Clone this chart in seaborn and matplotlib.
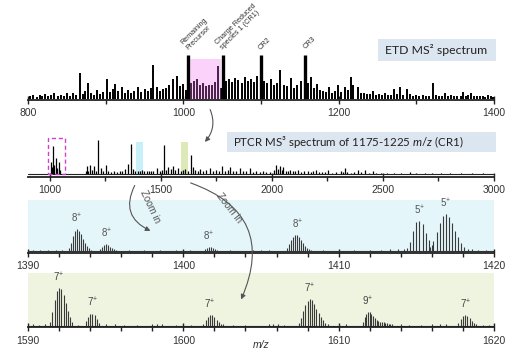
import matplotlib
matplotlib.use("Agg")
import matplotlib.pyplot as plt
from matplotlib.patches import Rectangle, FancyArrowPatch
from matplotlib.ticker import MultipleLocator
import seaborn as sns

# ETD MS2 spectrum (relative intensity, CR3 = 100)
ms2_mz = [803, 807, 811, 815, 818, 822, 826, 830, 834, 838, 842, 846, 850, 854, 858, 862,
          867, 871, 874, 877, 881, 885, 889, 893, 897, 902, 905, 909, 912, 916, 921, 925,
          929, 933, 937, 942, 946, 950, 954, 958, 961, 966, 970, 974, 978, 982, 987, 992,
          996, 1000, 1003, 1010, 1014, 1017, 1021, 1025, 1029, 1033, 1037, 1041, 1045, 1048,
          1055, 1059, 1063, 1067, 1071, 1075, 1079, 1083, 1087, 1091, 1095, 1104, 1108, 1113,
          1117, 1121, 1125, 1129, 1133, 1138, 1142, 1146, 1151, 1160, 1164, 1168, 1172, 1176,
          1180, 1184, 1187, 1191, 1195, 1199, 1203, 1208, 1212, 1216, 1219, 1225, 1229, 1233,
          1237, 1240, 1244, 1248, 1252, 1256, 1260, 1264, 1268, 1271, 1275, 1279, 1283, 1288,
          1292, 1296, 1300, 1304, 1308, 1312, 1316, 1321, 1325, 1329, 1333, 1337, 1341, 1345,
          1349, 1353, 1357, 1360, 1364, 1367, 1370, 1374, 1378, 1382, 1386, 1389, 1392, 1396, 1399]
ms2_int = [5, 8, 4, 9, 6, 11, 5, 9, 13, 6, 8, 5, 12, 7, 14, 9,
           58, 10, 17, 36, 12, 9, 20, 11, 15, 45, 16, 22, 34, 18, 27, 14,
           20, 12, 17, 27, 16, 21, 18, 25, 77, 27, 18, 22, 25, 30, 45, 52,
           28, 34, 20, 35, 40, 45, 30, 35, 28, 32, 30, 38, 75, 25,
           40, 45, 38, 48, 42, 35, 50, 40, 45, 38, 52, 40, 35, 45,
           30, 36, 66, 32, 28, 48, 25, 30, 41, 35, 50, 25, 34, 20,
           18, 15, 27, 14, 18, 32, 15, 27, 20, 50, 30, 27, 14, 12,
           10, 11, 18, 9, 10, 8, 12, 9, 8, 23, 10, 27, 9, 23,
           10, 7, 8, 6, 9, 6, 7, 36, 8, 6, 7, 14, 6, 8,
           5, 7, 6, 16, 6, 8, 14, 5, 7, 5, 6, 4, 9, 5, 4]
ms2_key_mz = [1006, 1051, 1100, 1157]
ms2_key_int = [98, 98, 98, 100]
ms2_key_labels = ["Remaining\nPrecursor", "Charge Reduced\nspecies 1 (CR1)", "CR2", "CR3"]

# PTCR MS3 spectrum (relative intensity)
ms3_mz = [1005, 1010, 1015, 1020, 1025, 1030, 1040, 1045, 1160, 1166, 1172, 1180, 1190, 1198,
          1208, 1216, 1228, 1240, 1252, 1262, 1275, 1290, 1300, 1315, 1325, 1338, 1351, 1365,
          1374, 1385, 1395, 1405, 1415, 1425, 1435, 1445, 1455, 1465, 1482, 1495, 1505, 1514,
          1522, 1532, 1543, 1554, 1565, 1577, 1590, 1600, 1608, 1620, 1635, 1644, 1655, 1666,
          1676, 1690, 1705, 1721, 1735, 1750, 1762, 1775, 1790, 1800, 1811, 1825, 1840, 1856,
          1870, 1885, 1901, 1915, 1930, 1945, 1960, 1975, 1990, 2010, 2018, 2026, 2036, 2044,
          2050, 2062, 2070, 2081, 2095, 2105, 2117, 2130, 2145, 2162, 2175, 2185, 2198, 2210,
          2225, 2240, 2252, 2270, 2290, 2310, 2320, 2329, 2340, 2355, 2370, 2387, 2400, 2419,
          2435, 2455, 2470, 2490, 2520, 2550, 2580, 2620, 2650, 2690, 2720, 2760, 2800, 2850,
          2900, 2950]
ms3_int = [35, 20, 82, 25, 47, 18, 35, 12, 10, 24, 10, 26, 12, 24,
           10, 100, 18, 10, 26, 8, 6, 8, 6, 10, 8, 15, 29, 88,
           15, 8, 10, 8, 12, 9, 10, 8, 10, 9, 18, 10, 12, 85,
           12, 20, 14, 24, 12, 18, 10, 12, 15, 8, 56, 20, 12, 10,
           15, 10, 12, 18, 10, 12, 10, 24, 10, 12, 20, 8, 10, 18,
           8, 10, 18, 6, 8, 6, 8, 6, 5, 12, 26, 15, 24, 12,
           20, 10, 8, 12, 8, 10, 12, 6, 8, 9, 6, 8, 12, 5,
           6, 5, 12, 4, 6, 8, 6, 18, 5, 4, 6, 12, 5, 12,
           4, 9, 3, 4, 3, 4, 3, 5, 3, 4, 3, 4, 3, 2,
           2, 2]

# zoom 1390-1420 m/z
z1_mz = [1390.3, 1390.8, 1391.3, 1391.8, 1392.2,
         1392.65, 1392.78, 1392.90, 1393.03, 1393.15, 1393.28, 1393.40, 1393.53, 1393.65,
         1393.78, 1393.90, 1394.03,
         1394.65, 1394.78, 1394.90, 1395.03, 1395.15, 1395.28, 1395.40, 1395.53, 1395.65,
         1396.5, 1397.5, 1398.5, 1399.5, 1400.4,
         1401.40, 1401.53, 1401.65, 1401.78, 1401.90, 1402.03, 1402.15,
         1403.0, 1404.5, 1405.0, 1405.5,
         1406.70, 1406.83, 1406.95, 1407.08, 1407.20, 1407.33, 1407.45, 1407.58, 1407.70,
         1407.83, 1407.95, 1408.08, 1408.20,
         1409.0, 1410.0, 1411.0, 1412.0, 1412.7, 1413.3, 1413.8, 1414.2,
         1414.4, 1414.6, 1414.8, 1415.0, 1415.2, 1415.4, 1415.6, 1415.8, 1416.0,
         1415.9, 1416.1, 1416.3, 1416.5, 1416.7, 1416.9, 1417.1, 1417.3, 1417.5, 1417.7,
         1417.9, 1418.1, 1418.3,
         1418.6, 1419.0, 1419.5]
z1_int = [3, 4, 3, 4, 3,
          8, 22, 40, 54, 59, 55, 45, 33, 22,
          13, 7, 4,
          6, 12, 17, 19, 16, 12, 8, 5, 3,
          2, 2, 2, 2, 3,
          5, 9, 11, 10, 8, 5, 3,
          2, 3, 4, 3,
          8, 18, 30, 38, 42, 43, 38, 30, 22,
          14, 9, 6, 4,
          3, 3, 2, 3, 4, 5, 6, 5,
          8, 25, 55, 78, 81, 72, 50, 30, 15,
          10, 28, 52, 75, 95, 100, 92, 75, 55, 38,
          22, 12, 6,
          5, 3, 2]
z1_lab_mz = [1393.15, 1395.03, 1401.65, 1407.33, 1415.2, 1416.9]
z1_lab_int = [59, 19, 11, 43, 81, 100]
z1_lab = ["8", "8", "8", "8", "5", "5"]

# zoom 1590-1620 m/z
z2_mz = [1590.3, 1590.7, 1591.1,
         1591.43, 1591.57, 1591.71, 1591.86, 1592.00, 1592.14, 1592.29, 1592.43, 1592.57,
         1592.71, 1592.86, 1593.2,
         1593.71, 1593.86, 1594.00, 1594.14, 1594.29, 1594.43, 1594.57,
         1595.0, 1595.6, 1596.2, 1597.0, 1598.0, 1598.3, 1598.6, 1599.5, 1600.5,
         1601.29, 1601.43, 1601.57, 1601.71, 1601.86, 1602.00, 1602.14, 1602.29, 1602.43, 1602.57,
         1603.2, 1604.0, 1605.5, 1605.8, 1606.1, 1606.5,
         1607.43, 1607.57, 1607.71, 1607.86, 1608.00, 1608.14, 1608.29, 1608.43, 1608.57,
         1608.71, 1608.86, 1609.00, 1609.14, 1609.29,
         1610.0, 1610.5,
         1611.56, 1611.67, 1611.78, 1611.89, 1612.00, 1612.11, 1612.22, 1612.33, 1612.44,
         1612.56, 1612.67, 1612.78, 1612.89, 1613.00, 1613.11, 1613.22, 1613.33, 1613.44,
         1614.0, 1614.5, 1615.3, 1616.0, 1616.5, 1616.9,
         1617.71, 1617.86, 1618.00, 1618.14, 1618.29, 1618.43, 1618.57, 1618.71, 1618.86,
         1619.3, 1619.7]
z2_int = [4, 3, 4,
          10, 35, 68, 92, 100, 96, 82, 60, 40,
          22, 10, 3,
          12, 22, 30, 32, 28, 18, 8,
          4, 5, 3, 3, 5, 6, 4, 3, 3,
          6, 14, 24, 29, 28, 22, 15, 10, 6, 4,
          3, 3, 5, 6, 5, 3,
          8, 20, 38, 55, 66, 71, 68, 58, 45,
          33, 22, 14, 8, 5,
          3, 4,
          10, 22, 32, 37, 35, 30, 25, 20, 16,
          13, 11, 10, 9, 8, 7, 6, 5, 4,
          4, 3, 3, 5, 6, 4,
          8, 18, 26, 29, 26, 20, 13, 8, 4,
          3, 2]
z2_lab_mz = [1592.0, 1594.14, 1601.71, 1608.14, 1611.89, 1618.14]
z2_lab_int = [100, 32, 29, 71, 37, 29]
z2_lab = ["7", "7", "7", "7", "9", "7"]

sns.set_theme(style="white")
plt.rcParams['font.family'] = ['Liberation Sans', 'DejaVu Sans']
plt.rcParams['mathtext.fontset'] = 'custom'
plt.rcParams['mathtext.rm'] = 'Lato'
plt.rcParams['mathtext.it'] = 'Lato:italic'

W, H = 518, 355
fig = plt.figure(figsize=(W / 100, H / 100), dpi=100)


def fx(x, y):
    return x / W, 1 - y / H


def panel(top, bottom):
    return fig.add_axes([28 / W, 1 - bottom / H, 466 / W, (bottom - top) / H])


def style_axis(ax, xlim, ylim, major, minor):
    ax.set_xlim(xlim)
    ax.set_ylim(ylim)
    sns.despine(ax=ax, left=True)
    ax.spines['bottom'].set_linewidth(1.3)
    ax.spines['bottom'].set_color('#222222')
    ax.xaxis.set_major_locator(MultipleLocator(major))
    ax.xaxis.set_minor_locator(MultipleLocator(minor))
    ax.tick_params(axis='x', which='major', bottom=True, direction='inout', length=6,
                   width=1, pad=3, labelsize=7.5, color='#222222', labelcolor='#333333')
    ax.tick_params(axis='x', which='minor', bottom=True, direction='out', length=3,
                   width=1, color='#222222')
    ax.set_yticks([])
    ax.grid(False)


# Panel 1: ETD MS2
ax1 = panel(10, 100)
ax1.vlines(ms2_mz, 0, ms2_int, color='black', lw=1.4)
ax1.vlines(ms2_key_mz, 0, ms2_key_int, color='black', lw=2.4)
ax1.add_patch(Rectangle((1008, 0), 40, 89, facecolor='#f06cf0', alpha=0.3, lw=0, zorder=3))
style_axis(ax1, (800, 1400), (-3, 201), 200, 100)
for m, h, lab in zip(ms2_key_mz, ms2_key_int, ms2_key_labels):
    ax1.annotate(lab, xy=(m, h), xytext=(1, 3), textcoords='offset points',
                 rotation=45, rotation_mode='anchor', ha='left', va='bottom',
                 fontsize=5.2, color='#333333', linespacing=1.0)

fig.patches.append(Rectangle(fx(378, 61), 118 / W, 22 / H, transform=fig.transFigure,
                             facecolor='#dce6f1', lw=0))
fig.text(*fx(436, 50.5), "ETD MS² spectrum", ha='center', va='center', fontsize=8.8,
         family='Lato', color='#222222')

# Panel 2: PTCR MS3
ax2 = panel(132, 177)
ax2.add_patch(Rectangle((1387, 0), 33, 94, facecolor='#c8f0f8', lw=0, zorder=0))
ax2.add_patch(Rectangle((1590, 0), 30, 94, facecolor='#dde9b6', lw=0, zorder=0))
ax2.vlines(ms3_mz, 0, ms3_int, color='black', lw=0.9)
ax2.axhline(0, color='#222222', lw=0.8)
ax2.add_patch(Rectangle((990, 0), 78, 106, facecolor='none', edgecolor='#d040d0',
                        lw=1.0, ls=(0, (3, 2)), zorder=4))
style_axis(ax2, (901, 3000), (-9, 123), 500, 250)

fig.patches.append(Rectangle(fx(227, 152), 269 / W, 20 / H, transform=fig.transFigure,
                             facecolor='#dce6f1', lw=0))
fig.text(*fx(233, 142), r"PTCR MS³ spectrum of 1175-1225 $\mathit{m/z}$ (CR1)",
         ha='left', va='center', fontsize=8.3, family='Lato', color='#222222')

# Panel 3: zoom 1390-1420
ax3 = panel(200, 252.5)
ax3.set_facecolor('#e4f6fa')
ax3.vlines(z1_mz, 0, z1_int, color='#3a3a3a', lw=0.8)
ax3.axhline(0, color='#333333', lw=0.8)
style_axis(ax3, (1390, 1420), (-4, 138), 10, 2)
for m, h, z in zip(z1_lab_mz, z1_lab_int, z1_lab):
    ax3.annotate(r"$\mathregular{%s^{+}}$" % z, xy=(m, h), xytext=(0, 3),
                 textcoords='offset points', ha='center', va='bottom', fontsize=7,
                 color='#555555')

# Panel 4: zoom 1590-1620
ax4 = panel(273, 327.3)
ax4.set_facecolor('#eef4e0')
ax4.vlines(z2_mz, 0, z2_int, color='#3a3a3a', lw=0.8)
ax4.axhline(0, color='#333333', lw=0.8)
style_axis(ax4, (1590, 1620), (-4, 139), 10, 2)
for m, h, z in zip(z2_lab_mz, z2_lab_int, z2_lab):
    ax4.annotate(r"$\mathregular{%s^{+}}$" % z, xy=(m, h), xytext=(0, 3),
                 textcoords='offset points', ha='center', va='bottom', fontsize=7,
                 color='#444444')

fig.text(*fx(261, 345), "m/z", ha='center', va='center', fontsize=7.5, style='italic',
         color='#333333')

# curved arrows
arrow_kw = dict(transform=fig.transFigure, arrowstyle='-|>', mutation_scale=7,
                color='#555555', lw=0.8, zorder=10)
fig.patches.append(FancyArrowPatch(fx(209, 107), fx(203, 144),
                                   connectionstyle='arc3,rad=-0.35', **arrow_kw))
fig.patches.append(FancyArrowPatch(fx(136, 183), fx(153, 232),
                                   connectionstyle='arc3,rad=0.55', **arrow_kw))
fig.patches.append(FancyArrowPatch(fx(188, 182), fx(240, 302),
                                   connectionstyle='arc3,rad=-0.55', **arrow_kw))
fig.text(*fx(150, 207), "Zoom in", rotation=-65, ha='center', va='center', fontsize=7,
         color='#555555')
fig.text(*fx(229, 208), "Zoom in", rotation=-52, ha='center', va='center', fontsize=7,
         color='#555555')

fig.savefig("out.png", dpi=100)
